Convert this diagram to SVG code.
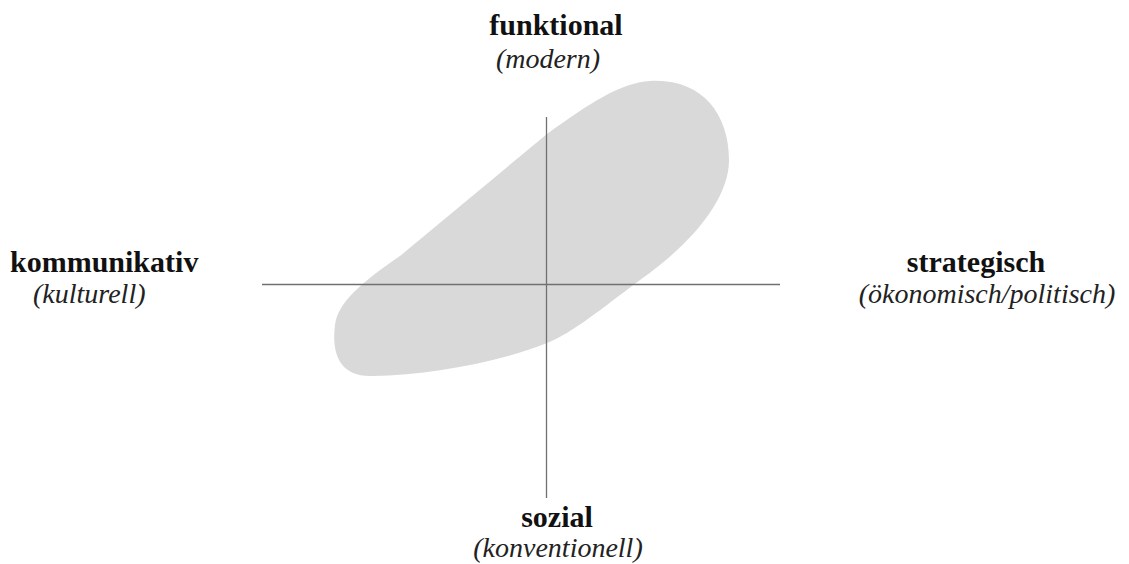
<svg xmlns="http://www.w3.org/2000/svg" width="1129" height="564" viewBox="0 0 1129 564">
<style>
.b{font-family:"Liberation Serif","Times New Roman",serif;font-weight:bold;font-size:30px;fill:#111}
.i{font-family:"Liberation Serif","Times New Roman",serif;font-style:italic;font-size:28px;fill:#222}
.ax{stroke:#707070;stroke-width:1.3;fill:none}
</style>
<rect width="1129" height="564" fill="#fff"/>
<g id="region">
<path d="M 650 81 C 700 78, 729 112, 729 160 C 729 200, 690 245, 640 280 C 600 310, 572 333, 547 343 C 500 362, 430 375, 372 376 C 336 377, 332 348, 335 325 C 338 302, 362 282, 400 256 L 547 134 C 590 103, 620 83, 650 81 Z" fill="#d9d9d9"/>
</g>
<g id="axes">
<line class="ax" x1="546.5" y1="117" x2="546.5" y2="498"/>
<line class="ax" x1="262" y1="284.5" x2="780" y2="284.5"/>
</g>
<g id="top">
<text class="b" x="556" y="35" text-anchor="middle">funktional</text>
<text class="i" x="548" y="68" text-anchor="middle">(modern)</text>
</g>
<g id="left">
<text class="b" x="10" y="272">kommunikativ</text>
<text class="i" x="33" y="303">(kulturell)</text>
</g>
<g id="right">
<text class="b" x="976" y="272" text-anchor="middle">strategisch</text>
<text class="i" x="987" y="303" text-anchor="middle">(ökonomisch/politisch)</text>
</g>
<g id="bottom">
<text class="b" x="557" y="527" text-anchor="middle">sozial</text>
<text class="i" x="558" y="557" text-anchor="middle">(konventionell)</text>
</g>
</svg>
